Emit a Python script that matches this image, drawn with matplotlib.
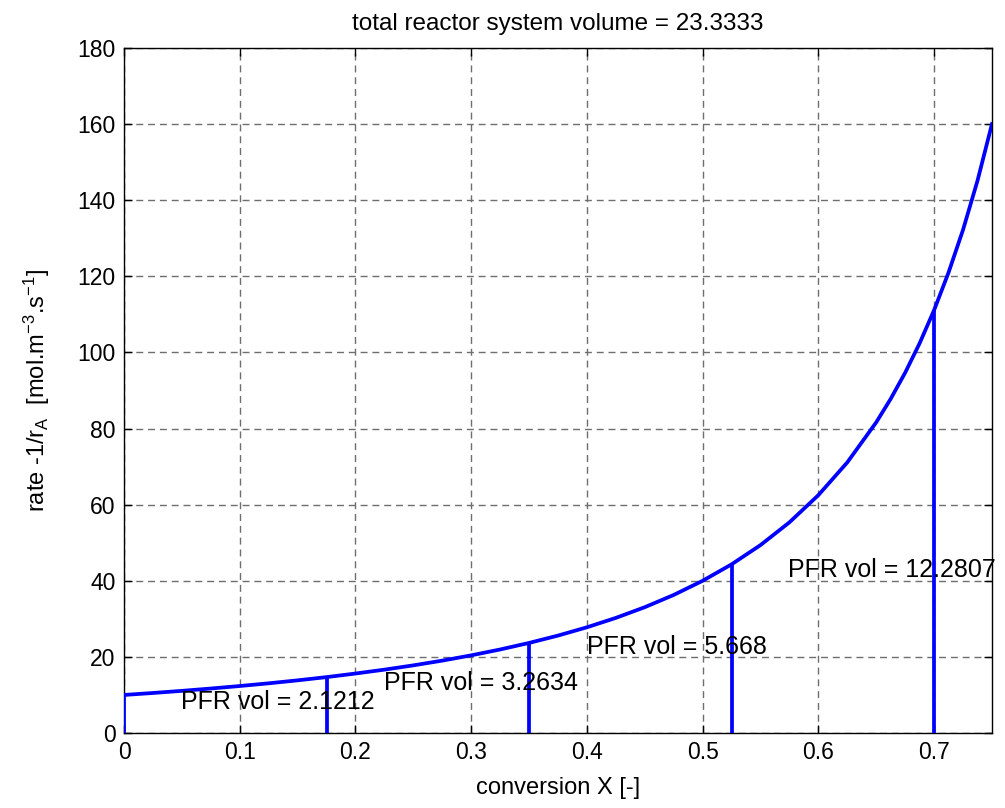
import matplotlib
matplotlib.use("Agg")
import matplotlib.pyplot as plt

plt.rcParams['font.family'] = ['Liberation Sans', 'DejaVu Sans']
plt.rcParams['mathtext.fontset'] = 'custom'
plt.rcParams['mathtext.rm'] = 'Liberation Sans'
plt.rcParams['mathtext.it'] = 'Liberation Sans'

# curve: conversion X vs -1/rA
conv_x = [0.0, 0.025, 0.05, 0.075, 0.1, 0.125, 0.15, 0.175, 0.2, 0.225, 0.25, 0.275,
          0.3, 0.325, 0.35, 0.375, 0.4, 0.425, 0.45, 0.475, 0.5, 0.525, 0.55, 0.575,
          0.6, 0.625, 0.65, 0.6625, 0.675, 0.6875, 0.7, 0.7125, 0.725, 0.7375, 0.75]
inv_rate = [10.0, 10.52, 11.08, 11.69, 12.35, 13.06, 13.84, 14.69, 15.63, 16.65, 17.78, 19.02,
            20.41, 21.95, 23.67, 25.6, 27.78, 30.25, 33.06, 36.28, 40.0, 44.32, 49.38, 55.36,
            62.5, 71.11, 81.63, 87.8, 94.67, 102.4, 111.1, 121.0, 132.2, 145.1, 160.0]

# reactor boundaries (vertical lines)
stage_x = [0.0, 0.175, 0.35, 0.525, 0.7]
stage_h = [10.0, 14.69, 23.67, 44.32, 111.1]

# labels
label_text = ['PFR vol = 2.1212', 'PFR vol = 3.2634', 'PFR vol = 5.668', 'PFR vol = 12.2807']
label_x = [0.049, 0.225, 0.4, 0.574]
label_y = [8.2, 13.1, 22.7, 42.8]

x_ticks = [0, 0.1, 0.2, 0.3, 0.4, 0.5, 0.6, 0.7]
x_tick_labels = ['0', '0.1', '0.2', '0.3', '0.4', '0.5', '0.6', '0.7']
y_ticks = [0, 20, 40, 60, 80, 100, 120, 140, 160, 180]

fig = plt.figure(figsize=(10.05, 8.08), dpi=100)
ax = fig.add_axes([0.1234, 0.0928, 0.8636, 0.8478])

blue = '#0000ff'
ax.plot(conv_x, inv_rate, color=blue, lw=2.7, zorder=3)
for sx, sh in zip(stage_x, stage_h):
    ax.plot([sx, sx], [0, sh], color=blue, lw=2.7, zorder=3, solid_capstyle='butt')

for t, tx, ty in zip(label_text, label_x, label_y):
    ax.text(tx, ty, t, fontsize=18, ha='left', va='center', color='black', zorder=4)

ax.set_xlim(0, 0.75)
ax.set_ylim(0, 180)
ax.set_xticks(x_ticks)
ax.set_xticklabels(x_tick_labels)
ax.set_yticks(y_ticks)
ax.tick_params(direction='in', length=6, width=1, top=True, right=True, labelsize=16.5, pad=6)
ax.grid(True, color='#6e6e6e', linestyle=(0, (5, 3.5)), linewidth=1.0)
for sp in ax.spines.values():
    sp.set_linewidth(1.0)
    sp.set_color('black')

ax.set_title('total reactor system volume = 23.3333', fontsize=17.5, pad=13)
ax.set_xlabel('conversion X [-]', fontsize=17, labelpad=9)
ax.set_ylabel(r'rate -1/r$_{\mathrm{A}}$  [mol.m$^{-3}$.s$^{-1}$]', fontsize=17, labelpad=18)

fig.savefig('out.png', dpi=100)
